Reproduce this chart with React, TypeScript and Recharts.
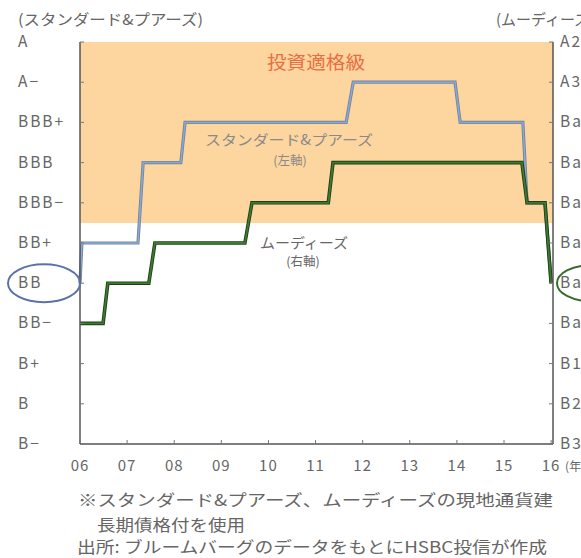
import React from "react";
import { LineChart, Line, XAxis, YAxis, ReferenceArea } from "recharts";

// 格付（左軸：S&P、右軸：ムーディーズ）
const spLabels = ["B−", "B", "B+", "BB−", "BB", "BB+", "BBB−", "BBB", "BBB+", "A−", "A"];
const moodyLabels = ["B3", "B2", "B1", "Ba3", "Ba2", "Ba1", "Baa3", "Baa2", "Baa1", "A3", "A2"];
const yearTicks = [2006, 2007, 2008, 2009, 2010, 2011, 2012, 2013, 2014, 2015, 2016];

// スタンダード&プアーズ
const spYears = [2006, 2006.04, 2007.23, 2007.34, 2008.14, 2008.23, 2011.65, 2011.8, 2013.96, 2014.07, 2015.4, 2015.49, 2015.87, 2016];
const spRatings = [4, 5, 5, 7, 7, 8, 8, 9, 9, 8, 8, 6, 6, 4];

// ムーディーズ
const moodyYears = [2006, 2006.49, 2006.59, 2007.46, 2007.59, 2009.5, 2009.65, 2011.27, 2011.37, 2015.38, 2015.49, 2015.87, 2016];
const moodyRatings = [3, 3, 4, 4, 5, 5, 6, 6, 7, 7, 6, 6, 4];

const investmentGradeFrom = 5.5;

const spData = spYears.map((year, i) => ({ year, rating: spRatings[i] }));
const moodyData = moodyYears.map((year, i) => ({ year, rating: moodyRatings[i] }));

const FONT = "'Noto Sans CJK JP', 'Noto Sans', sans-serif";
const GRAY = "#666";

function LeftTick(props: any) {
  const { x, y, payload } = props;
  const label = spLabels[payload.value];
  return (
    <g>
      <line x1={x} x2={x + 4} y1={y} y2={y} stroke="#777" />
      <text x={x - 62} y={y} dy={5} fill={GRAY} fontSize={15.5} fontFamily={FONT} letterSpacing={2}>
        {label}
      </text>
      {label === "BB" && <ellipse cx={x - 36} cy={y} rx={36} ry={19} fill="none" stroke="#5a72a8" strokeWidth={2} />}
    </g>
  );
}

function RightTick(props: any) {
  const { x, y, payload } = props;
  const label = moodyLabels[payload.value];
  return (
    <g>
      <line x1={x} x2={x - 4} y1={y} y2={y} stroke="#777" />
      <text x={x + 7} y={y} dy={5} fill={GRAY} fontSize={15.5} fontFamily={FONT} letterSpacing={2}>
        {label}
      </text>
      {label === "Ba2" && <ellipse cx={x + 38} cy={y} rx={34} ry={18} fill="none" stroke="#3a6a2e" strokeWidth={2} />}
    </g>
  );
}

function BottomTick(props: any) {
  const { x, y, payload } = props;
  const yy = String(payload.value).slice(2);
  return (
    <g>
      <line x1={x} x2={x} y1={y} y2={y - 4} stroke="#777" />
      <text x={x} y={y + 27} textAnchor="middle" fill={GRAY} fontSize={15} fontFamily={FONT} letterSpacing={1}>
        {yy}
      </text>
      {payload.value === 2016 && (
        <text x={x + 14} y={y + 27} fill={GRAY} fontSize={12} fontFamily={FONT}>
          (年)
        </text>
      )}
    </g>
  );
}

export default function App() {
  return (
    <div style={{ position: "absolute", left: 0, top: 0, width: 581, height: 558, background: "#fff", overflow: "hidden" }}>
      <LineChart width={581} height={558} margin={{ top: 42, right: 0, bottom: 0, left: 0 }}>
        <XAxis
          dataKey="year"
          type="number"
          domain={[2006, 2016.04]}
          ticks={yearTicks}
          tick={<BottomTick />}
          tickLine={false}
          tickSize={0}
          tickMargin={0}
          height={114}
          allowDuplicatedCategory={false}
          axisLine={{ stroke: "#555", strokeWidth: 1.5 }}
        />
        <YAxis
          yAxisId="sp"
          orientation="left"
          type="number"
          domain={[0, 10]}
          ticks={[0, 1, 2, 3, 4, 5, 6, 7, 8, 9, 10]}
          tick={<LeftTick />}
          tickLine={false}
          tickSize={0}
          tickMargin={0}
          width={80}
          axisLine={{ stroke: "#555", strokeWidth: 1.5 }}
        />
        <YAxis
          yAxisId="moody"
          orientation="right"
          type="number"
          domain={[0, 10]}
          ticks={[0, 1, 2, 3, 4, 5, 6, 7, 8, 9, 10]}
          tick={<RightTick />}
          tickLine={false}
          tickSize={0}
          tickMargin={0}
          width={28}
          axisLine={{ stroke: "#555", strokeWidth: 1.5 }}
        />
        <ReferenceArea yAxisId="sp" y1={investmentGradeFrom} y2={10} fill="#fdd59e" fillOpacity={1} stroke="none" ifOverflow="visible" />
        <Line yAxisId="sp" data={spData} dataKey="rating" type="linear" stroke="#75839a" strokeWidth={3.2} dot={false} isAnimationActive={false} />
        <Line yAxisId="sp" data={spData} dataKey="rating" type="linear" stroke="#86aad8" strokeWidth={1.5} dot={false} isAnimationActive={false} />
        <Line yAxisId="moody" data={moodyData} dataKey="rating" type="linear" stroke="#1f3f1a" strokeWidth={3.6} dot={false} isAnimationActive={false} />
        <Line yAxisId="moody" data={moodyData} dataKey="rating" type="linear" stroke="#3c7a2f" strokeWidth={1.8} dot={false} isAnimationActive={false} />
      </LineChart>
      <svg width={581} height={558} style={{ position: "absolute", left: 0, top: 0, pointerEvents: "none" }}>
        <text x={18} y={25} fill={GRAY} fontSize={15} fontFamily={FONT} textLength={185} lengthAdjust="spacingAndGlyphs">(スタンダード&プアーズ)</text>
        <text x={496} y={25} fill={GRAY} fontSize={15} fontFamily={FONT}>(ムーディーズ)</text>
        <text x={267} y={69} fill="#e96d44" fontSize={18.5} fontFamily={FONT} textLength={98} lengthAdjust="spacingAndGlyphs">投資適格級</text>
        <text x={205} y={145} fill="#8a8a8a" fontSize={14} fontFamily={FONT} textLength={168} lengthAdjust="spacingAndGlyphs">スタンダード&プアーズ</text>
        <text x={290} y={165} textAnchor="middle" fill="#8a8a8a" fontSize={12.5} fontFamily={FONT}>(左軸)</text>
        <text x={260} y={248} fill={GRAY} fontSize={14} fontFamily={FONT} textLength={88} lengthAdjust="spacingAndGlyphs">ムーディーズ</text>
        <text x={303} y={266} textAnchor="middle" fill={GRAY} fontSize={12.5} fontFamily={FONT}>(右軸)</text>
        <text x={78} y={506} fill={GRAY} fontSize={16} fontFamily={FONT} textLength={475} lengthAdjust="spacingAndGlyphs">
          ※スタンダード&プアーズ、ムーディーズの現地通貨建
        </text>
        <text x={97} y={531} fill={GRAY} fontSize={16} fontFamily={FONT} textLength={148} lengthAdjust="spacingAndGlyphs">
          長期債格付を使用
        </text>
        <text x={77} y={553} fill={GRAY} fontSize={16} fontFamily={FONT} textLength={470} lengthAdjust="spacingAndGlyphs">
          出所: ブルームバーグのデータをもとにHSBC投信が作成
        </text>
      </svg>
    </div>
  );
}
